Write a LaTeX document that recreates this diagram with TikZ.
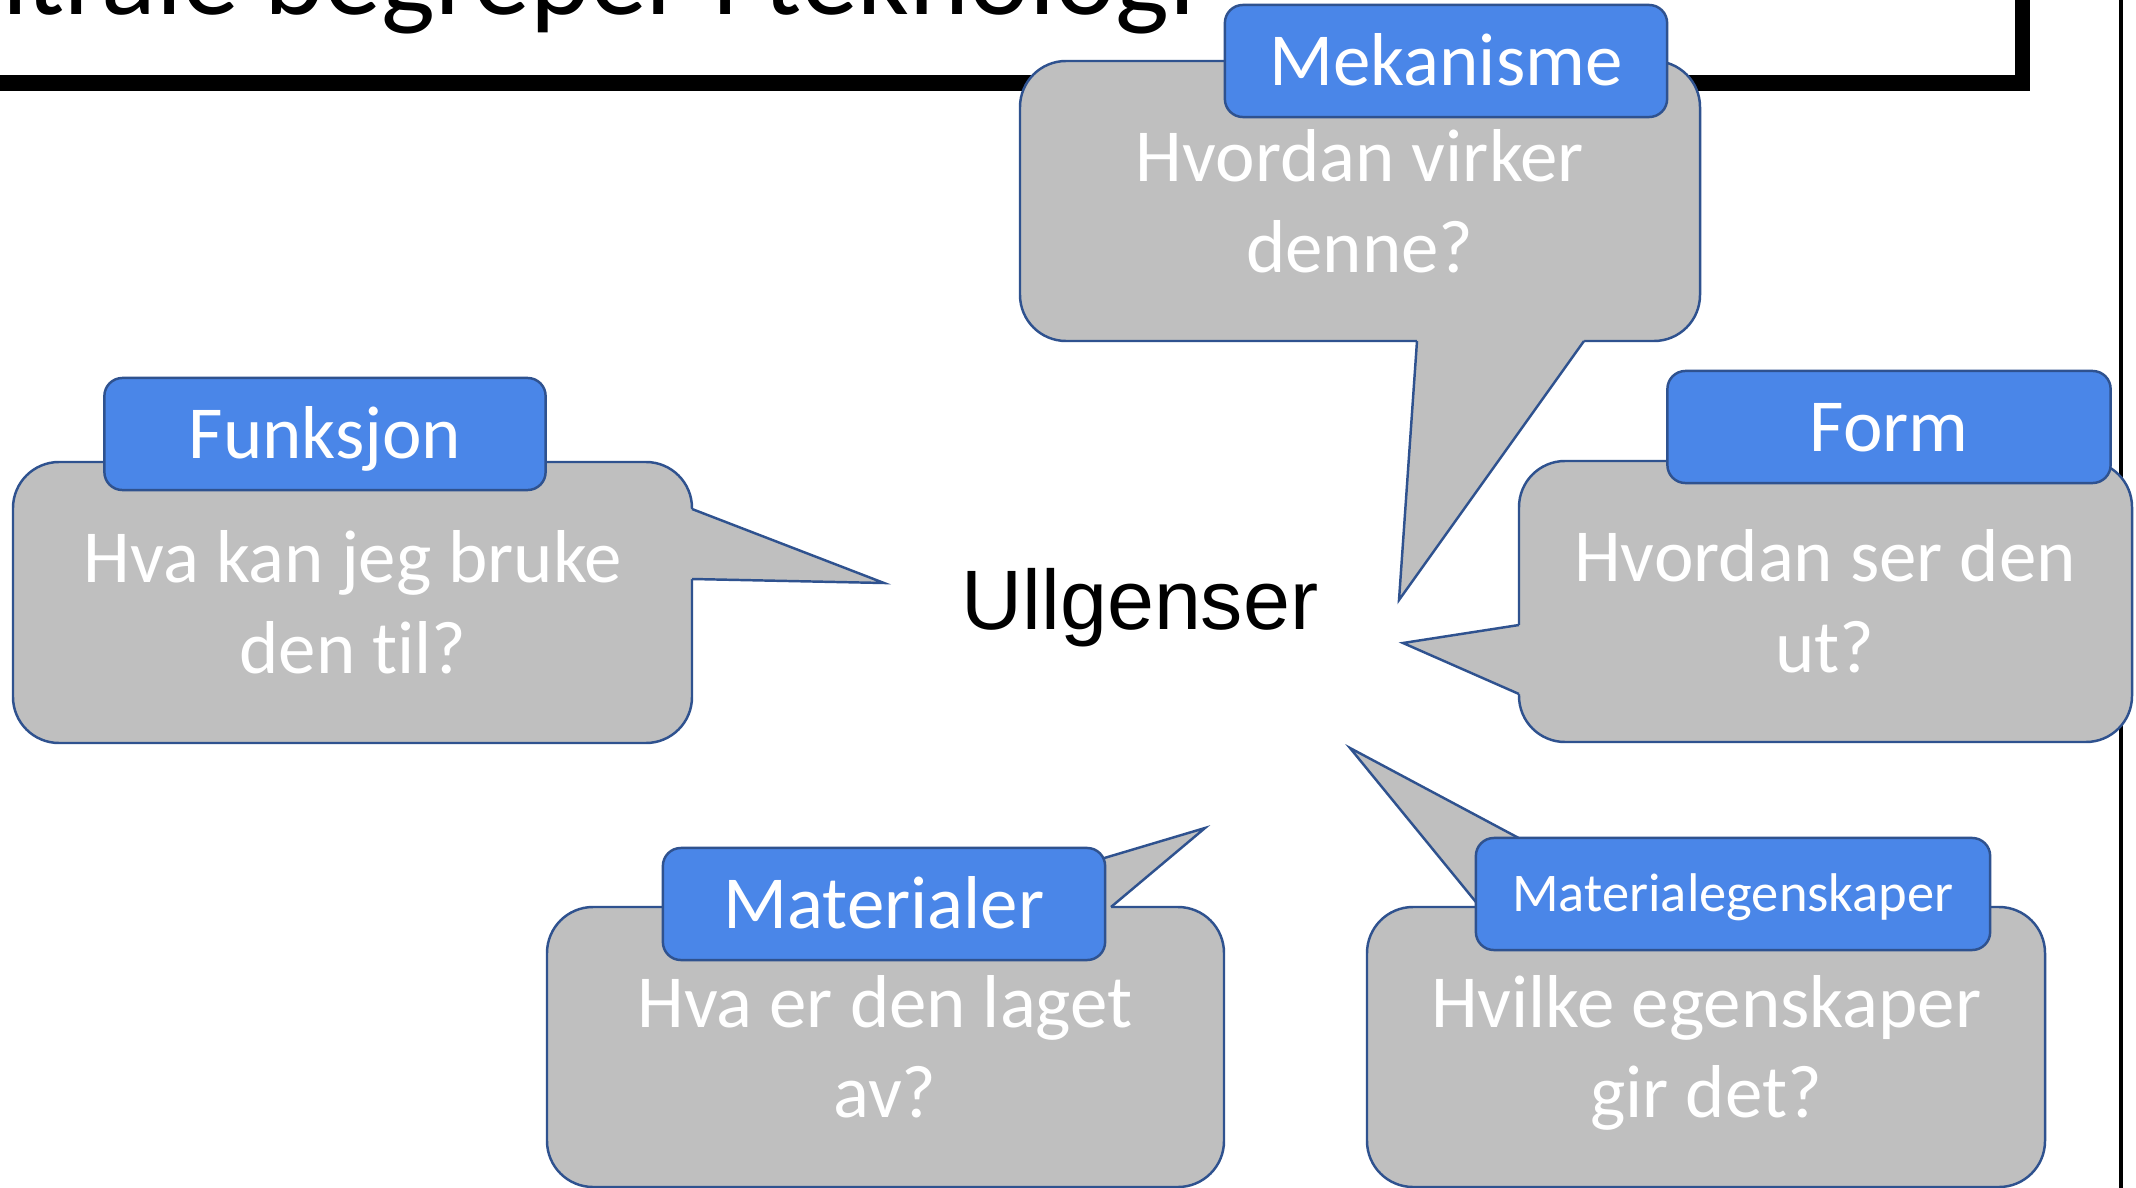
\documentclass[tikz,border=0pt]{standalone}
\usepackage{fontspec}
\setmainfont{Carlito}[Ligatures=NoCommon]
\newfontfamily\arialfont{Liberation Sans}

\definecolor{bubblegray}{HTML}{BFBFBF}
\definecolor{edgeblue}{HTML}{2F528F}
\definecolor{tabblue}{HTML}{4A86E8}

\newcommand{\bodyfont}{\fontsize{21.3}{25.6}\selectfont}
\newcommand{\smalltabfont}{\fontsize{15.5}{18}\selectfont}

\begin{document}
\begin{tikzpicture}[
    x			= 0.01cm,
    y			= -0.01cm,
    bubble/.style	= {fill=bubblegray, draw=edgeblue, line width=0.7pt, rounded corners=4.6mm},
    beak/.style		= {fill=bubblegray},
    beakline/.style	= {draw=edgeblue, line width=0.7pt, line join=miter},
    tab/.style		= {fill=tabblue, draw=edgeblue, line width=0.7pt, rounded corners=1.8mm,
                           minimum height=1.12cm, inner sep=0pt, text=white, font=\bodyfont,
                           text height=13.7pt, text depth=0pt},
    question/.style	= {text=white, font=\bodyfont, align=center, inner sep=0pt}
  ]
\useasboundingbox (0,0) rectangle (2136,1188);
\clip (0,0) rectangle (2136,1188);
\fill[white] (0,0) rectangle (2136,1188);
% frame line and title box
\draw[line width=1.1pt] (2121,-10) -- (2121,1200);
\draw[line width=4.27pt] (-50,-50) rectangle (2022,83);
\node[anchor=base east, inner sep=0pt, font=\fontsize{32.4}{38}\selectfont] (title) at (1196,15) {Sentrale begreper i teknologi};
% centre word
\node[anchor=base, inner sep=0pt, font=\arialfont\fontsize{24}{28}\selectfont] (ullgenser) at (1140,629) {Ullgenser};
% Mekanisme
\draw[bubble] (1020,61) rectangle (1700,341);
\coordinate (mektip) at (1399,600);
\fill[beak] (1417,335) -- (1417,341) -- (mektip) -- (1584,341) -- (1584,335) -- cycle;
\draw[beakline] (1417,341) -- (mektip) -- (1584,341);
\node[tab, minimum width=4.42cm] (mektab) at (1446,61) {Mekanisme};
\node[question] (mektxt) at (1360,209) {\strut Hvordan virker\\\strut denne?};
% Funksjon
\draw[bubble] (13,462) rectangle (692,743);
\coordinate (funtip) at (884,583);
\fill[beak] (686,509) -- (692,509) -- (funtip) -- (692,579) -- (686,579) -- cycle;
\draw[beakline] (692,509) -- (funtip) -- (692,579);
\node[tab, minimum width=4.41cm] (funtab) at (325,434) {Funksjon};
\node[question] (funtxt) at (353,610) {\strut Hva kan jeg bruke\\\strut den til?};
% Form
\draw[bubble] (1519,461) rectangle (2132,742);
\coordinate (formtip) at (1403,643);
\fill[beak] (1525,625) -- (1519,625) -- (formtip) -- (1519,694) -- (1525,694) -- cycle;
\draw[beakline] (1519,625) -- (formtip) -- (1519,694);
\node[tab, minimum width=4.43cm] (formtab) at (1889,427) {Form};
\node[question] (formtxt) at (1825,609) {\strut Hvordan ser den\\\strut ut?};
% Materialer
\draw[bubble] (547,907) rectangle (1224,1187);
\coordinate (mattip) at (1205,828);
\fill[beak] (940,913) -- (940,907) -- (mattip) -- (1111,907) -- (1111,913) -- cycle;
\draw[beakline] (940,907) -- (mattip) -- (1111,907);
\node[tab, minimum width=4.42cm] (mattab) at (884,904) {Materialer};
\node[question] (mattxt) at (885,1054) {\strut Hva er den laget\\\strut av?};
% Materialegenskaper
\draw[bubble] (1367,907) rectangle (2045,1187);
\coordinate (egentip) at (1350,748);
\fill[beak] (1480,913) -- (1480,907) -- (egentip) -- (1648,907) -- (1648,913) -- cycle;
\draw[beakline] (1480,907) -- (egentip) -- (1648,907);
\node[tab, minimum width=5.14cm, font=\smalltabfont, text height=9.7pt] (egentab) at (1733,894) {Materialegenskaper};
\node[question] (egentxt) at (1706,1054) {\strut Hvilke egenskaper\\\strut gir det?};
%
\end{tikzpicture}
\end{document}
